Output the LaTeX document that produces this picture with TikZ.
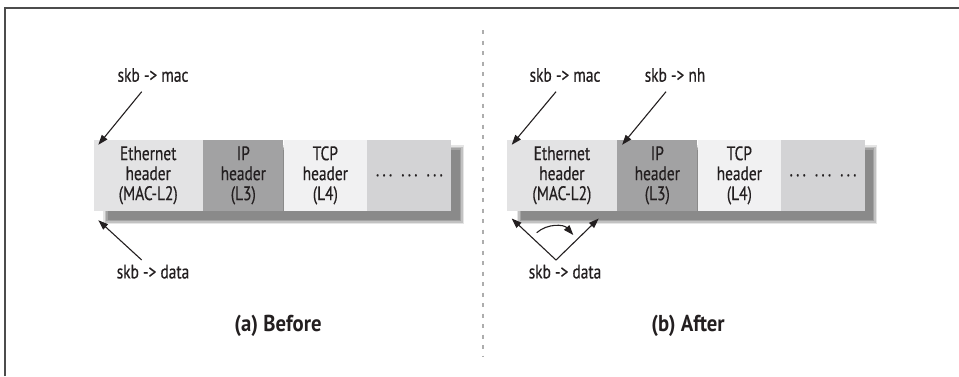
\documentclass[tikz,border=0pt]{standalone}
\usepackage{fontspec}
\setmainfont[FakeStretch=0.79, UprightFeatures={FakeBold=0.45}, BoldFeatures={FakeStretch=0.9}]{PT Sans}
\usetikzlibrary{arrows.meta,calc}
\definecolor{txt}{HTML}{231F20}
\definecolor{ethc}{HTML}{E3E3E4}
\definecolor{ipc}{HTML}{A2A2A3}
\definecolor{tcpc}{HTML}{F1F1F2}
\definecolor{dotc}{HTML}{D3D3D5}
\newcommand{\dotgrp}{.\kern3.2pt.\kern3.2pt.}
\newcommand{\dotrow}{\dotgrp\hspace{9pt}\dotgrp\hspace{9pt}\dotgrp}
\tikzset{
  cell/.style={rectangle, inner sep=0pt, minimum height=70.7pt, align=center,
    text=txt, font=\fontsize{19.5}{20}\selectfont, anchor=west},
  lbl/.style={inner sep=0pt, text=txt, font=\fontsize{19.5}{20}\selectfont},
  capt/.style={inner sep=0pt, text=txt, font=\fontsize{23}{26}\selectfont\bfseries},
  arr/.style={draw=txt, line width=1.1pt, -{Triangle[length=10pt,width=7pt]}},
  frame/.style={draw=black!70, line width=1.5pt},
  divider/.style={draw=black!32, line width=2.2pt, dash pattern=on 4pt off 6.5pt}
}
\newcommand{\shadowbox}[2]{%
  \fill[black!10] ($(#1)+(10,5)$) rectangle ($(#2)+(14,13.5)$);
  \fill[black!24] ($(#1)+(11.5,6.5)$) rectangle ($(#2)+(12.5,12)$);
  \fill[black!36] ($(#1)+(13,8)$) rectangle ($(#2)+(11,10.5)$);
  \fill[black!46] ($(#1)+(14.5,9.5)$) rectangle ($(#2)+(9.5,9)$);
}
\begin{document}
\begin{tikzpicture}[x=1pt,y=-1pt]
\useasboundingbox (0,0) rectangle (959,376);
% frame (top and left sides)
\draw[frame] (5,376) -- (5,8) -- (959,8);
% divider
\draw[divider] (483,30) -- (483,356);

% ---------- (a) Before ----------
\shadowbox{93.3,140}{450,210.7}
\node[cell, fill=ethc, minimum width=109.4pt] (eth1) at (93.3,175.35) {Ethernet\\header\\(MAC-L2)};
\node[cell, fill=ipc, minimum width=80pt] (ip1) at (eth1.east) {IP\\header\\(L3)};
\node[cell, fill=tcpc, minimum width=83.3pt] (tcp1) at (ip1.east) {TCP\\header\\(L4)};
\node[cell, fill=dotc, minimum width=84pt] (dots1) at (tcp1.east) {\dotrow};

\node[lbl] (mac1) at (153,75) {skb -> mac};
\node[lbl] (data1) at (153,271.7) {skb -> data};
\draw[arr] ($(mac1.center)+(-11.3,16.7)$) -- ([xshift=5pt,yshift=-5pt]eth1.north west);
\draw[arr] ($(data1.center)+(-11.3,-11.7)$) -- ([xshift=5pt,yshift=-9.3pt]eth1.south west);

\node[capt] (capa) at (278,326) {(a) Before};

% ---------- (b) After ----------
\shadowbox{506.7,140}{863.3,210.7}
\node[cell, fill=ethc, minimum width=110pt] (eth2) at (506.7,175.35) {Ethernet\\header\\(MAC-L2)};
\node[cell, fill=ipc, minimum width=80pt] (ip2) at (eth2.east) {IP\\header\\(L3)};
\node[cell, fill=tcpc, minimum width=83.3pt] (tcp2) at (ip2.east) {TCP\\header\\(L4)};
\node[cell, fill=dotc, minimum width=83.3pt] (dots2) at (tcp2.east) {\dotrow};

\node[lbl] (mac2) at (565,75) {skb -> mac};
\node[lbl] (nh2) at (675,75) {skb -> nh};
\node[lbl] (data2) at (565,271.7) {skb -> data};
\draw[arr] ($(mac2.center)+(-9,16.7)$) -- ([xshift=5pt,yshift=-5pt]eth2.north west);
\draw[arr] ($(nh2.center)+(-9,16.7)$) -- ([xshift=5pt,yshift=-5pt]ip2.north west);
\coordinate (apex) at ($(data2.center)+(-9,-11.7)$);
\draw[arr] (apex) -- ([xshift=5pt,yshift=-7.6pt]eth2.south west);
\draw[arr] (apex) -- ([xshift=-18.4pt,yshift=-7.6pt]eth2.south east);
\coordinate (cs) at (536.7,232.7);
\coordinate (ce) at (573.3,235);
\draw[arr] (cs) to[bend left=45] (ce);

\node[capt] (capb) at (688,326) {(b) After};
\end{tikzpicture}
\end{document}
